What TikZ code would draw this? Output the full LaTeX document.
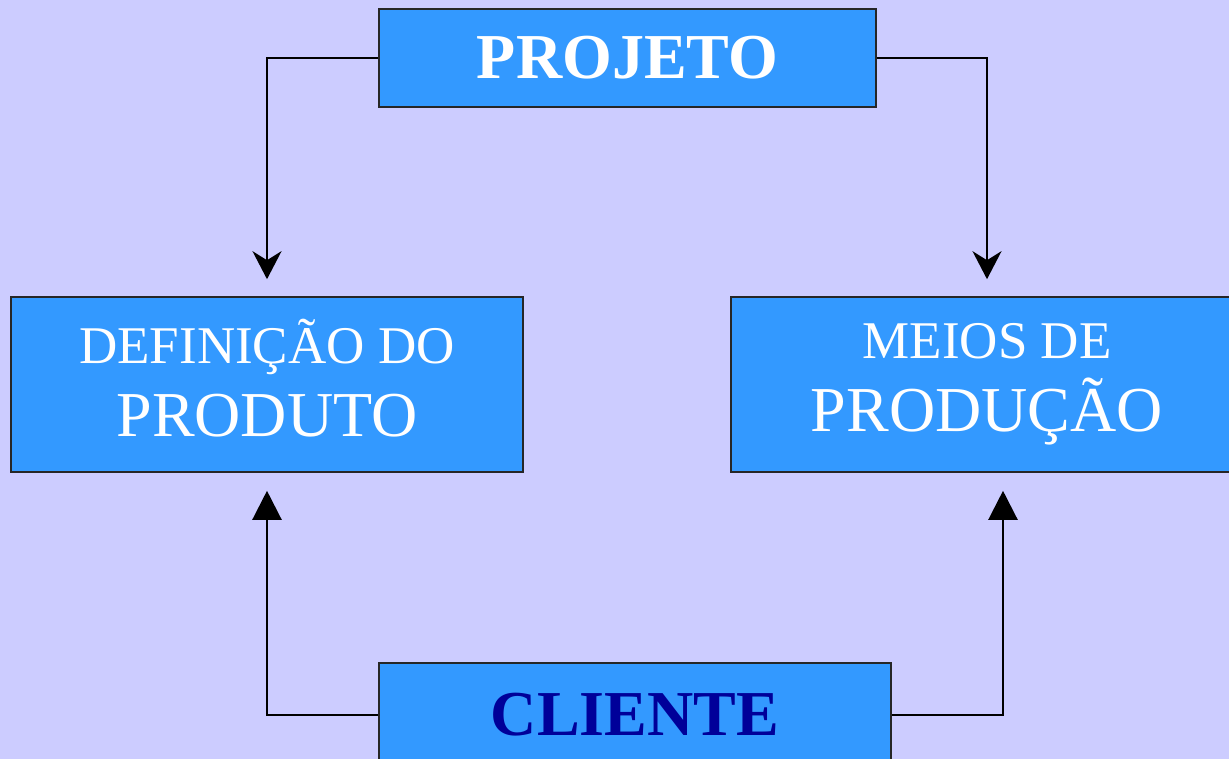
\documentclass[tikz,border=0pt]{standalone}
\usepackage{xcolor}
\usepackage{fontspec}
\setmainfont{Liberation Serif}
\usetikzlibrary{arrows.meta, positioning}

\definecolor{fundo}{HTML}{CCCCFF}
\definecolor{caixa}{HTML}{3399FF}
\definecolor{azulescuro}{HTML}{000099}

\begin{document}
\begin{tikzpicture}[x=1pt,y=-1pt]
        \useasboundingbox (0,0) rectangle (1229,759);
        \fill[fundo] (0,0) rectangle (1229,759);
        \begin{scope}[every node/.style={draw=black!85,line width=1.6pt,fill=caixa,rectangle,inner sep=0pt,text=white,align=center,font=\fontsize{64}{73}\selectfont}]
          \node[minimum width=497pt,minimum height=98pt,font=\fontsize{64}{73}\selectfont\bfseries] (projeto) at (627.5,58) {PROJETO};
          \node[minimum width=512pt,minimum height=175pt] (def) at (267,384.5) {{\fontsize{53}{73}\selectfont DEFINIÇÃO DO}\\PRODUTO\vphantom{Ç}};
          \node[minimum width=512pt,minimum height=175pt] (meios) at (987,384.5) {{\fontsize{53}{73}\selectfont MEIOS DE}\\PRODUÇÃO};
          \node[minimum width=512pt,minimum height=104pt,text=azulescuro,font=\fontsize{64}{73}\selectfont\bfseries] (cliente) at (635,715) {CLIENTE};
        \end{scope}
        \begin{scope}[every edge/.style={draw=black,line width=2.3pt,to path={-| (\tikztotarget)}}]
          \path (projeto.west) edge[-{Stealth[length=28pt,width=29pt,inset=9pt]}] ([yshift=17pt]def.north);
          \path (projeto.east) edge[-{Stealth[length=28pt,width=29pt,inset=9pt]}] ([yshift=17pt]meios.north);
          \path (cliente.west) edge[-{Triangle[length=29pt,width=29pt]}] ([yshift=-18pt]def.south);
          \path (cliente.east) edge[-{Triangle[length=29pt,width=29pt]}] ([xshift=16pt,yshift=-18pt]meios.south);
        \end{scope}
      \end{tikzpicture}
\end{document}
